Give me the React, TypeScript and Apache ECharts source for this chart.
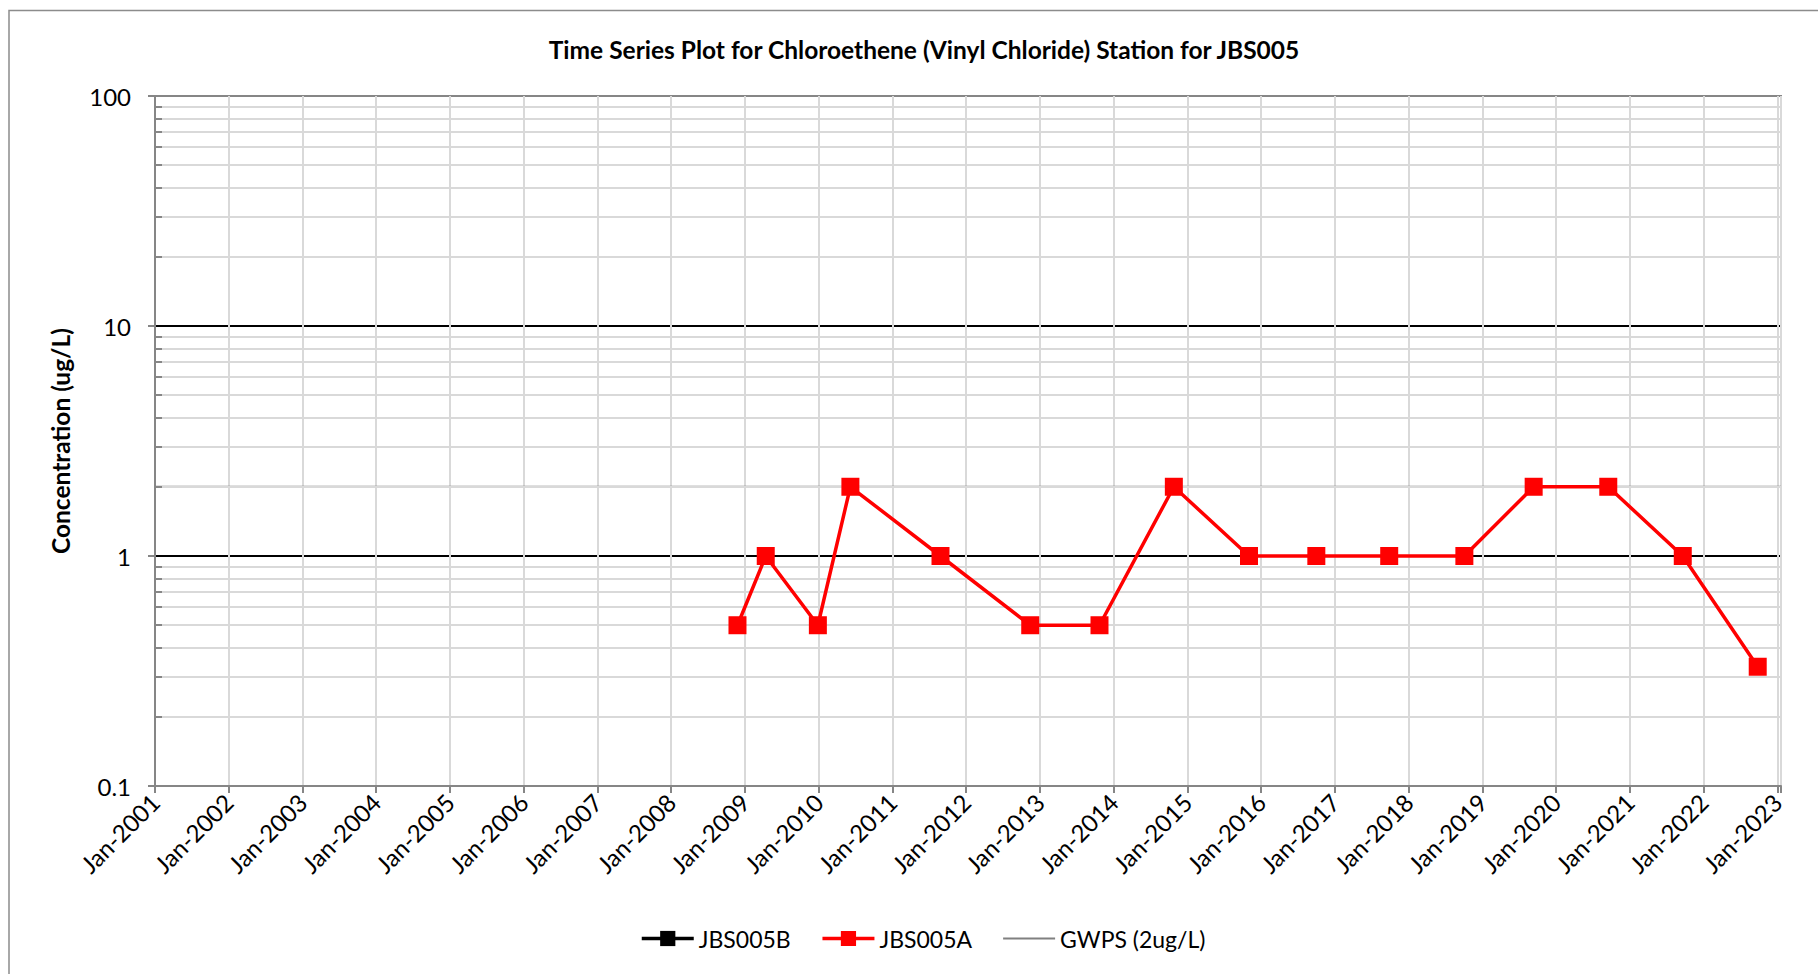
import React, { useEffect, useRef } from "react";
import * as echarts from "echarts";

const chartTitle = "Time Series Plot for Chloroethene (Vinyl Chloride) Station for JBS005";
const yAxisTitle = "Concentration (ug/L)";
const seriesNames = ["JBS005B", "JBS005A", "GWPS (2ug/L)"];

const sampleDatesA = [
  "2008-11-25", "2009-04-14", "2009-12-28", "2010-06-07", "2011-08-27", "2012-11-14",
  "2013-10-23", "2014-10-26", "2015-11-02", "2016-10-01", "2017-09-27", "2018-10-04",
  "2019-09-12", "2020-09-16", "2021-09-20", "2022-09-26",
];
const valuesA = [0.5, 1, 0.5, 2, 1, 0.5, 0.5, 2, 1, 1, 1, 1, 2, 2, 1, 0.33];
const sampleDatesB: string[] = [];
const valuesB: number[] = [];
const gwpsValue = 2;

const xMinYear = 2001;
const xMaxYear = 2023.05;
const yMin = 0.1;
const yMax = 100;
const minorGridValues = [
  0.2, 0.3, 0.4, 0.5, 0.6, 0.7, 0.8, 0.9,
  2, 3, 4, 5, 6, 7, 8, 9,
  20, 30, 40, 50, 60, 70, 80, 90,
];

function toDecimalYear(s: string): number {
  const [y, m, d] = s.split("-").map(Number);
  const start = Date.UTC(y, 0, 1);
  const end = Date.UTC(y + 1, 0, 1);
  const t = Date.UTC(y, m - 1, d);
  return y + (t - start) / (end - start);
}

const FONT = "Lato, 'Open Sans', sans-serif";

export default function App() {
  const ref = useRef<HTMLDivElement>(null);
  useEffect(() => {
    if (!ref.current) return;
    const chart = echarts.init(ref.current, undefined, { renderer: "svg" });
    const dataA = sampleDatesA.map((d, i) => [toDecimalYear(d), valuesA[i]]);
    const dataB = sampleDatesB.map((d, i) => [toDecimalYear(d), valuesB[i]]);
    const minorLines = minorGridValues.map((v) => ({ yAxis: v }));
    const minorTicks = minorGridValues.map((v) => [
      { coord: [xMinYear, v] },
      { coord: [xMinYear + 0.095, v] },
    ]);
    chart.setOption({
      animation: false,
      backgroundColor: "#ffffff",
      textStyle: { fontFamily: FONT },
      title: {
        text: chartTitle,
        left: 919,
        textAlign: "center",
        top: 32,
        textStyle: { fontFamily: FONT, fontSize: 24.5, fontWeight: "bold", color: "#000" },
      },
      legend: {
        data: [
          { name: seriesNames[0], lineStyle: { width: 3.5 } },
          { name: seriesNames[1], lineStyle: { width: 3.5 } },
          { name: seriesNames[2], itemStyle: { opacity: 0 }, lineStyle: { width: 2 } },
        ],
        left: 635,
        top: 922,
        itemWidth: 52,
        itemHeight: 19,
        itemGap: 30,
        textStyle: { fontFamily: FONT, fontSize: 23, color: "#000" },
      },
      grid: {
        left: 155,
        top: 96,
        right: 37,
        bottom: 188,
        show: true,
        borderColor: "#868686",
        borderWidth: 2,
      },
      graphic: [
        {
          type: "rect",
          shape: { x: 9, y: 10.5, width: 2000, height: 2000 },
          style: { fill: "none", stroke: "#8c8c8c", lineWidth: 1.5 },
          silent: true,
        },
      ],
      xAxis: {
        type: "value",
        min: xMinYear,
        max: xMaxYear,
        interval: 1,
        axisLine: { show: true, onZero: false, lineStyle: { color: "#868686", width: 2 } },
        axisTick: { show: true, inside: false, length: 7, lineStyle: { color: "#868686", width: 2 } },
        splitLine: { show: true, lineStyle: { color: "#d9d9d9", width: 2 } },
        axisLabel: {
          rotate: 45,
          margin: 12,
          fontFamily: FONT,
          fontSize: 24,
          color: "#000",
          showMaxLabel: true,
          formatter: (v: number) => (Math.abs(v - Math.round(v)) < 1e-6 ? `Jan-${Math.round(v)}` : ""),
        },
      },
      yAxis: {
        type: "log",
        logBase: 10,
        min: yMin,
        max: yMax,
        name: yAxisTitle,
        nameLocation: "middle",
        nameGap: 82,
        nameTextStyle: { fontFamily: FONT, fontSize: 24.5, fontWeight: "bold", color: "#000" },
        axisLine: { show: true, lineStyle: { color: "#868686", width: 2 } },
        axisTick: { show: true, inside: false, length: 7, lineStyle: { color: "#868686", width: 2 } },
        splitLine: {
          show: true,
          lineStyle: { color: ["#868686", "#000000", "#000000", "#868686"], width: 2 },
        },
        axisLabel: {
          margin: 24,
          fontFamily: FONT,
          fontSize: 24,
          color: "#000",
          formatter: (v: number) => String(v),
        },
      },
      series: [
        {
          name: "grid-minor",
          type: "line",
          data: [],
          silent: true,
          markLine: {
            silent: true,
            symbol: "none",
            label: { show: false },
            lineStyle: { color: "#d9d9d9", width: 2, type: "solid" },
            data: minorLines,
          },
          z: 1,
        },
        {
          name: "grid-minor-ticks",
          type: "line",
          data: [],
          silent: true,
          markLine: {
            silent: true,
            symbol: "none",
            label: { show: false },
            lineStyle: { color: "#868686", width: 2, type: "solid" },
            data: minorTicks,
          },
          z: 2,
        },
        {
          name: seriesNames[0],
          type: "line",
          data: dataB,
          symbol: "rect",
          symbolSize: 18,
          itemStyle: { color: "#000000" },
          lineStyle: { color: "#000000", width: 3.5 },
          z: 5,
        },
        {
          name: seriesNames[1],
          type: "line",
          data: dataA,
          symbol: "rect",
          symbolSize: 18,
          itemStyle: { color: "#ff0000" },
          lineStyle: { color: "#ff0000", width: 3.5 },
          z: 5,
        },
        {
          name: seriesNames[2],
          type: "line",
          data: [[xMinYear, gwpsValue], [xMaxYear, gwpsValue]],
          symbol: "none",
          showSymbol: false,
          itemStyle: { color: "rgba(128,128,128,0)" },
          lineStyle: { color: "#808080", width: 2 },
          z: 4,
        },
      ],
    });
    return () => chart.dispose();
  }, []);
  return (
    <div
      ref={ref}
      style={{ position: "fixed", left: 0, top: 0, width: 1818, height: 974, background: "#fff" }}
    />
  );
}
